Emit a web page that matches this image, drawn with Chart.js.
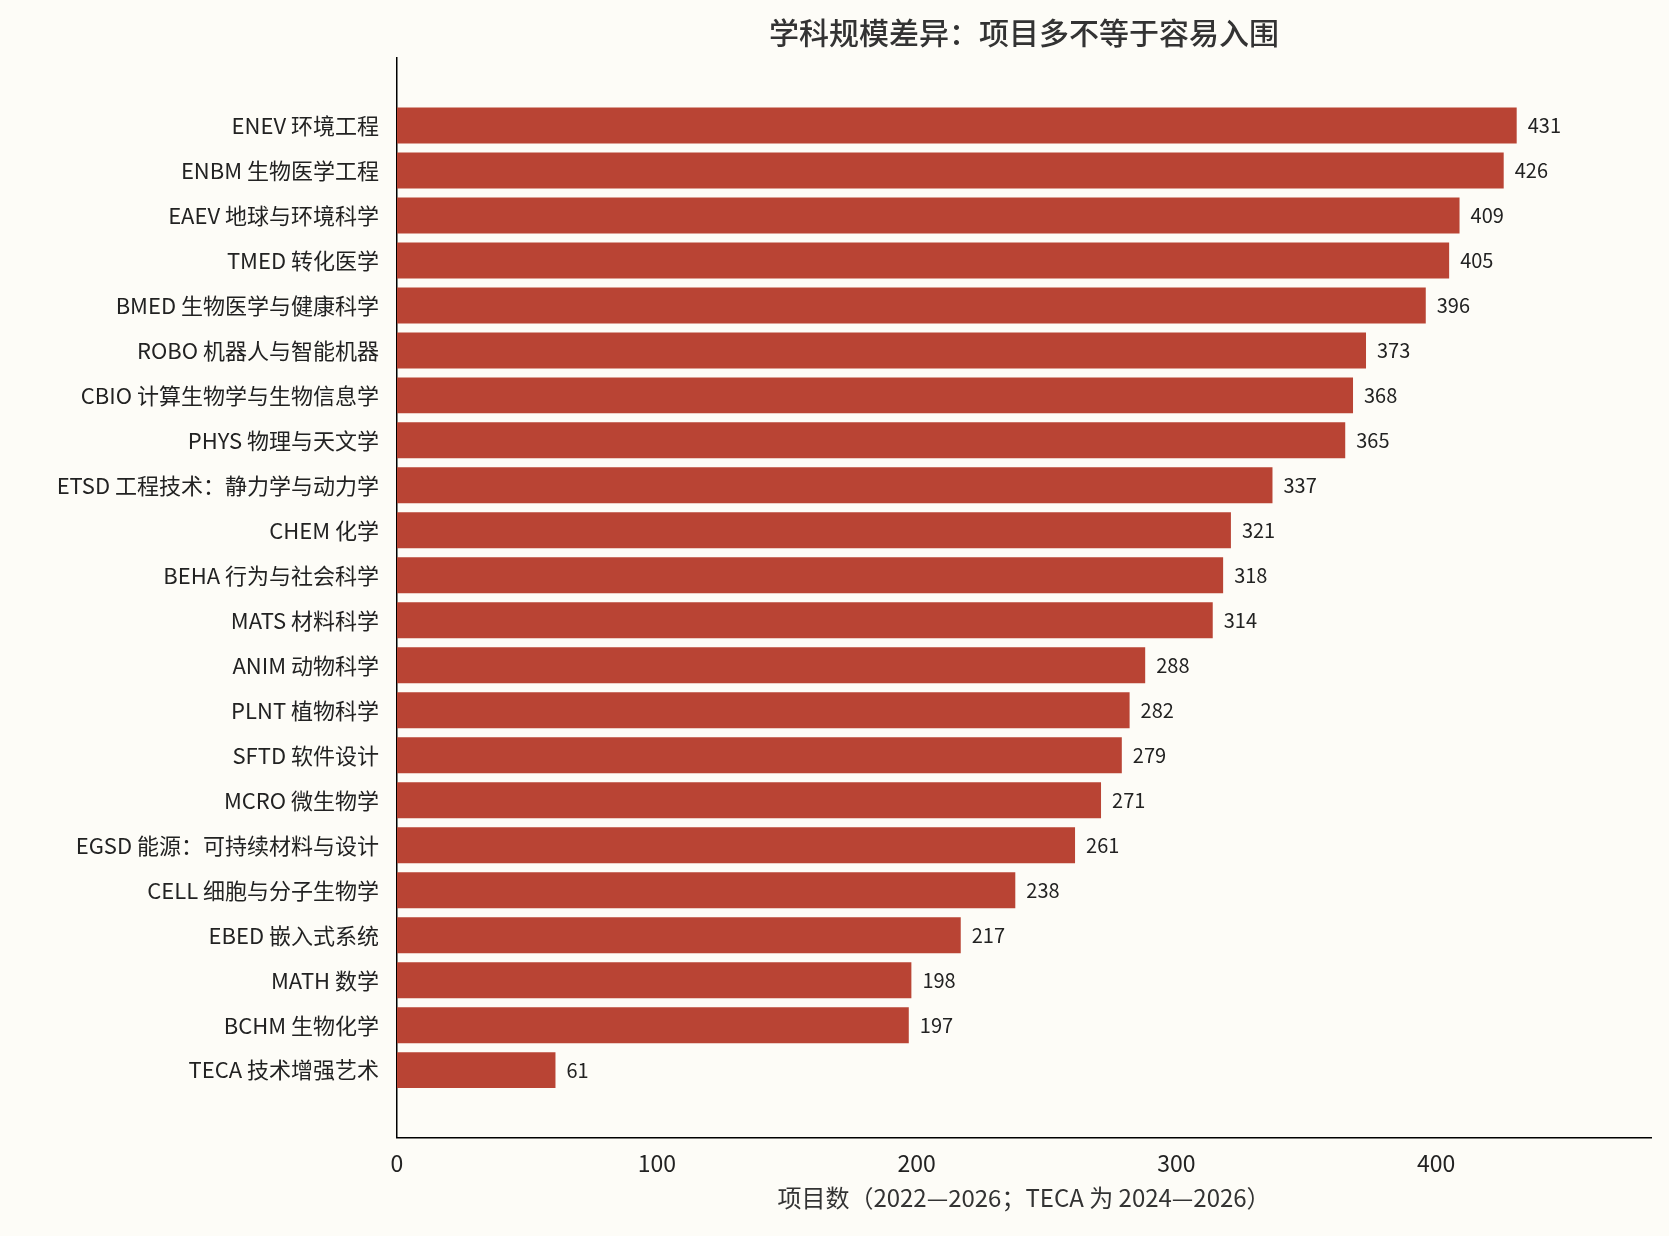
<!DOCTYPE html>
<html><head><meta charset="utf-8">
<script src="https://cdn.jsdelivr.net/npm/chart.js@4/dist/chart.umd.min.js"></script>
<style>html,body{margin:0;background:#fdfcf7;}#w{width:1669px;height:1236px;}</style>
</head><body><div id="w"><canvas id="c"></canvas></div>
<script>
const categories = ["ENEV 环境工程","ENBM 生物医学工程","EAEV 地球与环境科学","TMED 转化医学","BMED 生物医学与健康科学","ROBO 机器人与智能机器","CBIO 计算生物学与生物信息学","PHYS 物理与天文学","ETSD 工程技术：静力学与动力学","CHEM 化学","BEHA 行为与社会科学","MATS 材料科学","ANIM 动物科学","PLNT 植物科学","SFTD 软件设计","MCRO 微生物学","EGSD 能源：可持续材料与设计","CELL 细胞与分子生物学","EBED 嵌入式系统","MATH 数学","BCHM 生物化学","TECA 技术增强艺术"];
const projectCounts = [431,426,409,405,396,373,368,365,337,321,318,314,288,282,279,271,261,238,217,198,197,61];
const xTicks = [0,100,200,300,400];
const titleText = '学科规模差异：项目多不等于容易入围';
const FONT = "'Noto Sans CJK SC','Noto Sans',sans-serif";
const labelPlugin = {id:'vals',afterDatasetsDraw(ch){const c=ch.ctx;const m=ch.getDatasetMeta(0);c.save();c.font="20px "+FONT;c.fillStyle="#222";c.textBaseline="middle";m.data.forEach((b,i)=>{c.fillText(String(projectCounts[i]),b.x+11,b.y);});
const a=ch.chartArea;c.font="500 30px "+FONT;c.fillStyle="#333";c.textAlign="center";c.fillText(titleText,(a.left+a.right)/2,33);c.restore();}};
new Chart(document.getElementById('c'),{type:'bar',
data:{datasets:[{data:projectCounts.map((v,i)=>({x:v,y:i})),backgroundColor:'#b94434',barPercentage:1,categoryPercentage:0.8}]},
options:{indexAxis:'y',responsive:true,maintainAspectRatio:false,animation:false,
layout:{padding:{left:0,right:18,top:58,bottom:20}},
plugins:{legend:{display:false},tooltip:{enabled:false},title:{display:false}},
scales:{
x:{type:'linear',min:0,max:482.7,grid:{display:false},border:{display:true,color:'#000',width:1.5},
afterBuildTicks(s){s.ticks=xTicks.map(v=>({value:v}));},
ticks:{color:'#222',font:{family:FONT,size:23},padding:4},
title:{display:true,text:'项目数（2022—2026；TECA 为 2024—2026）',color:'#333',font:{family:FONT,size:24},padding:{top:2}}},
y:{type:'linear',min:-1.5,max:22.5,reverse:true,offset:false,grid:{display:false},border:{display:true,color:'#000',width:1.5},
afterFit(s){s.width=397;},
afterBuildTicks(s){s.ticks=categories.map((_,i)=>({value:i}));},
ticks:{color:'#222',font:{family:FONT,size:22},padding:10,callback:(v)=>categories[v]}}}},
plugins:[labelPlugin]});
</script></body></html>
